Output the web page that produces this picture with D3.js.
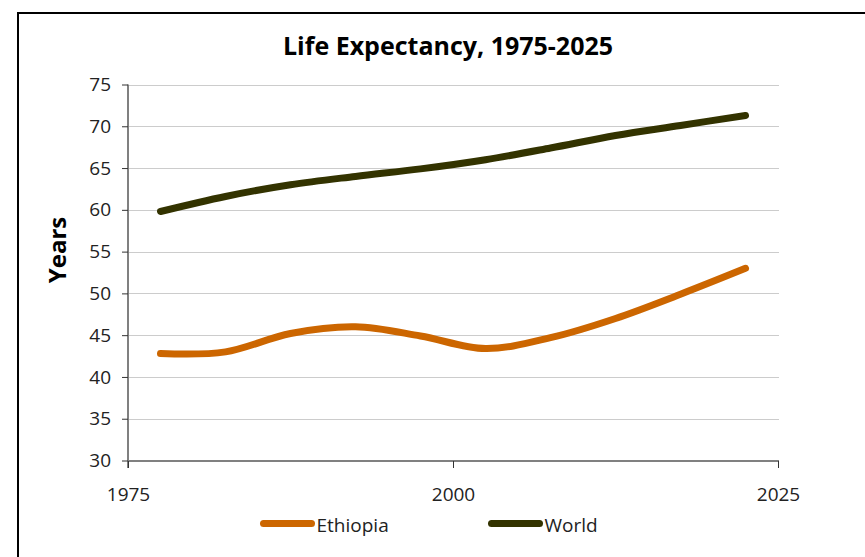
<!DOCTYPE html>
<html><head><meta charset="utf-8">
<script src="https://cdn.jsdelivr.net/npm/d3@7"></script>
<style>
body{margin:0;background:#fff;}
text{font-family:"Open Sans",sans-serif;}
</style></head>
<body>
<svg id="chart" width="865" height="557"></svg>
<script>
const years = [1977.5,1982.5,1987.5,1992.5,1997.5,2002.5,2007.5,2012.5,2017.5,2022.5];
const ethiopia = [42.8,43.0,45.2,46.0,44.9,43.4,44.7,47.0,49.9,53.0];
const world = [59.8,61.6,63.0,64.0,64.9,66.0,67.4,68.9,70.1,71.3];
const seriesNames = ["Ethiopia","World"];
const seriesColors = ["#CC6600","#333300"];
const xTicks = [1975,2000,2025];
const yTicks = [30,35,40,45,50,55,60,65,70,75];

const svg = d3.select("#chart");
svg.append("rect").attr("x",18).attr("y",13).attr("width",900).attr("height",600)
  .attr("fill","#fff").attr("stroke","#000").attr("stroke-width",2);

const x = d3.scaleLinear().domain([1975,2025]).range([128,778]);
const y = d3.scaleLinear().domain([30,75]).range([460.5,84.5]);

// gridlines
svg.append("g").selectAll("line").data(yTicks.filter(d=>d>30)).join("line")
  .attr("x1",128).attr("x2",779).attr("y1",d=>Math.round(y(d))+0.5).attr("y2",d=>Math.round(y(d))+0.5)
  .attr("stroke","#cccccc").attr("stroke-width",1);

// y axis
const yAxis = svg.append("g").attr("transform","translate(128,0)")
  .call(d3.axisLeft(y).tickValues(yTicks).tickSize(6).tickPadding(11));
yAxis.select(".domain").attr("stroke","#808080").attr("stroke-width",2).attr("d","M0,84.5V468");
yAxis.selectAll(".tick line").attr("stroke","#333");
yAxis.selectAll(".tick text").attr("font-size",19).attr("fill","#222").attr("font-family","Open Sans");

// x axis
const xAxis = svg.append("g").attr("transform","translate(0,461)")
  .call(d3.axisBottom(x).tickValues(xTicks).tickFormat(d3.format("d")).tickSize(7).tickPadding(20));
xAxis.select(".domain").attr("stroke","#808080").attr("stroke-width",2).attr("d","M128,0H779");
xAxis.selectAll(".tick line").attr("stroke","#333");
xAxis.selectAll(".tick text").attr("font-size",19).attr("fill","#222").attr("font-family","Open Sans");

// lines
const line = d3.line().x((d,i)=>x(years[i])).y(d=>y(d)).curve(d3.curveCardinal.tension(0));
[ethiopia, world].forEach((s,k)=>{
  svg.append("path").datum(s).attr("d",line).attr("fill","none")
    .attr("stroke",seriesColors[k]).attr("stroke-width",7).attr("stroke-linecap","round").attr("stroke-linejoin","round");
});

// title
svg.append("text").attr("x",448).attr("y",55).attr("text-anchor","middle")
  .attr("font-size",25).attr("font-weight","bold").attr("fill","#000").text("Life Expectancy, 1975-2025");

// y label
svg.append("text").attr("transform","translate(66,250) rotate(-90)").attr("text-anchor","middle")
  .attr("font-size",24).attr("font-weight","bold").attr("fill","#000").text("Years");

// legend
const legX = [263.5, 491.5];
seriesNames.forEach((n,k)=>{
  const g = svg.append("g");
  g.append("line").attr("x1",legX[k]).attr("x2",legX[k]+48).attr("y1",523.5).attr("y2",523.5)
    .attr("stroke",seriesColors[k]).attr("stroke-width",7).attr("stroke-linecap","round");
  g.append("text").attr("x",legX[k]+53).attr("y",532).attr("font-size",19).attr("fill","#222").text(n);
});
</script>
</body></html>
